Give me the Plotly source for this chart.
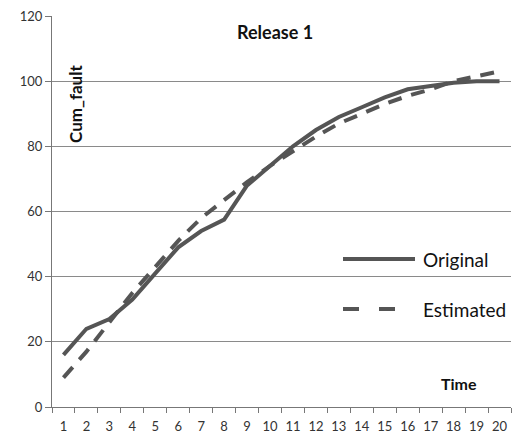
import plotly.graph_objects as go

time = [str(i) for i in range(1, 21)]
original = [16, 24, 27, 33, 41, 49, 54, 57.5, 68, 74, 80, 85, 89, 92, 95, 97.5, 98.5, 99.5, 100, 100]
estimated = [9, 17, 26, 35, 43, 51, 58, 63.5, 69, 74, 78.5, 83, 87, 90, 93, 95.5, 97.5, 100, 101.5, 103]

LINE = "#555555"
FONT = "Lato, 'Open Sans', sans-serif"

fig = go.Figure()
fig.add_trace(go.Scatter(x=time, y=original, mode="lines", name="Original",
                         line=dict(color=LINE, width=4), showlegend=False))
fig.add_trace(go.Scatter(x=time, y=estimated, mode="lines", name="Estimated",
                         line=dict(color=LINE, width=4, dash="14px,10px"), showlegend=False))

L, R, T, B = 52, 8, 16, 34
W, H = 519, 441
pw, ph = W - L - R, H - T - B

def px(x):
    return (x - L) / pw

def py(y):
    return (H - B - y) / ph

shapes = [
    dict(type="line", xref="paper", yref="paper", x0=px(343), x1=px(415), y0=py(259), y1=py(259),
         line=dict(color=LINE, width=4)),
    dict(type="line", xref="paper", yref="paper", x0=px(343), x1=px(415), y0=py(309), y1=py(309),
         line=dict(color=LINE, width=4, dash="16px,20px")),
]

annotations = [
    dict(text="<b>Release 1</b>", xref="paper", yref="paper", x=px(275), y=py(32),
         showarrow=False, font=dict(size=18, color="#111"), xanchor="center", yanchor="middle"),
    dict(text="<b>Cum_fault</b>", xref="paper", yref="paper", x=px(75), y=py(104),
         showarrow=False, textangle=-90, font=dict(size=17, color="#111"), xanchor="center", yanchor="middle"),
    dict(text="<b>Time</b>", xref="paper", yref="paper", x=px(459), y=py(383),
         showarrow=False, font=dict(size=16, color="#111"), xanchor="center", yanchor="middle"),
    dict(text="Original", xref="paper", yref="paper", x=px(421), y=py(259),
         showarrow=False, font=dict(size=19, color="#111"), xanchor="left", yanchor="middle"),
    dict(text="Estimated", xref="paper", yref="paper", x=px(421), y=py(309),
         showarrow=False, font=dict(size=19, color="#111"), xanchor="left", yanchor="middle"),
]

fig.update_layout(
    width=W, height=H,
    margin=dict(l=L, r=R, t=T, b=B, pad=0, autoexpand=False),
    paper_bgcolor="white", plot_bgcolor="white",
    font=dict(family=FONT, size=13, color="#333"),
    shapes=shapes, annotations=annotations,
    xaxis=dict(type="category", range=[-0.5, len(time) - 0.5], tickson="boundaries",
               ticks="outside", ticklen=5, ticklabelstandoff=7,
               tickcolor="#777", showline=True, linecolor="#777", linewidth=1,
               showgrid=False, tickangle=0, automargin=False,
               tickfont=dict(size=13, color="#333"), fixedrange=True),
    yaxis=dict(range=[0, 120], tickvals=[0, 20, 40, 60, 80, 100, 120], ticks="outside",
               ticklen=6, tickcolor="#777", showline=True, linecolor="#777", linewidth=1,
               showgrid=True, gridcolor="#8a8a8a", gridwidth=1, zeroline=False, automargin=False,
               tickfont=dict(size=13, color="#333"), fixedrange=True),
)

fig.write_html("out.html", config={"displayModeBar": False},
               post_script="document.body.style.margin='0';")
